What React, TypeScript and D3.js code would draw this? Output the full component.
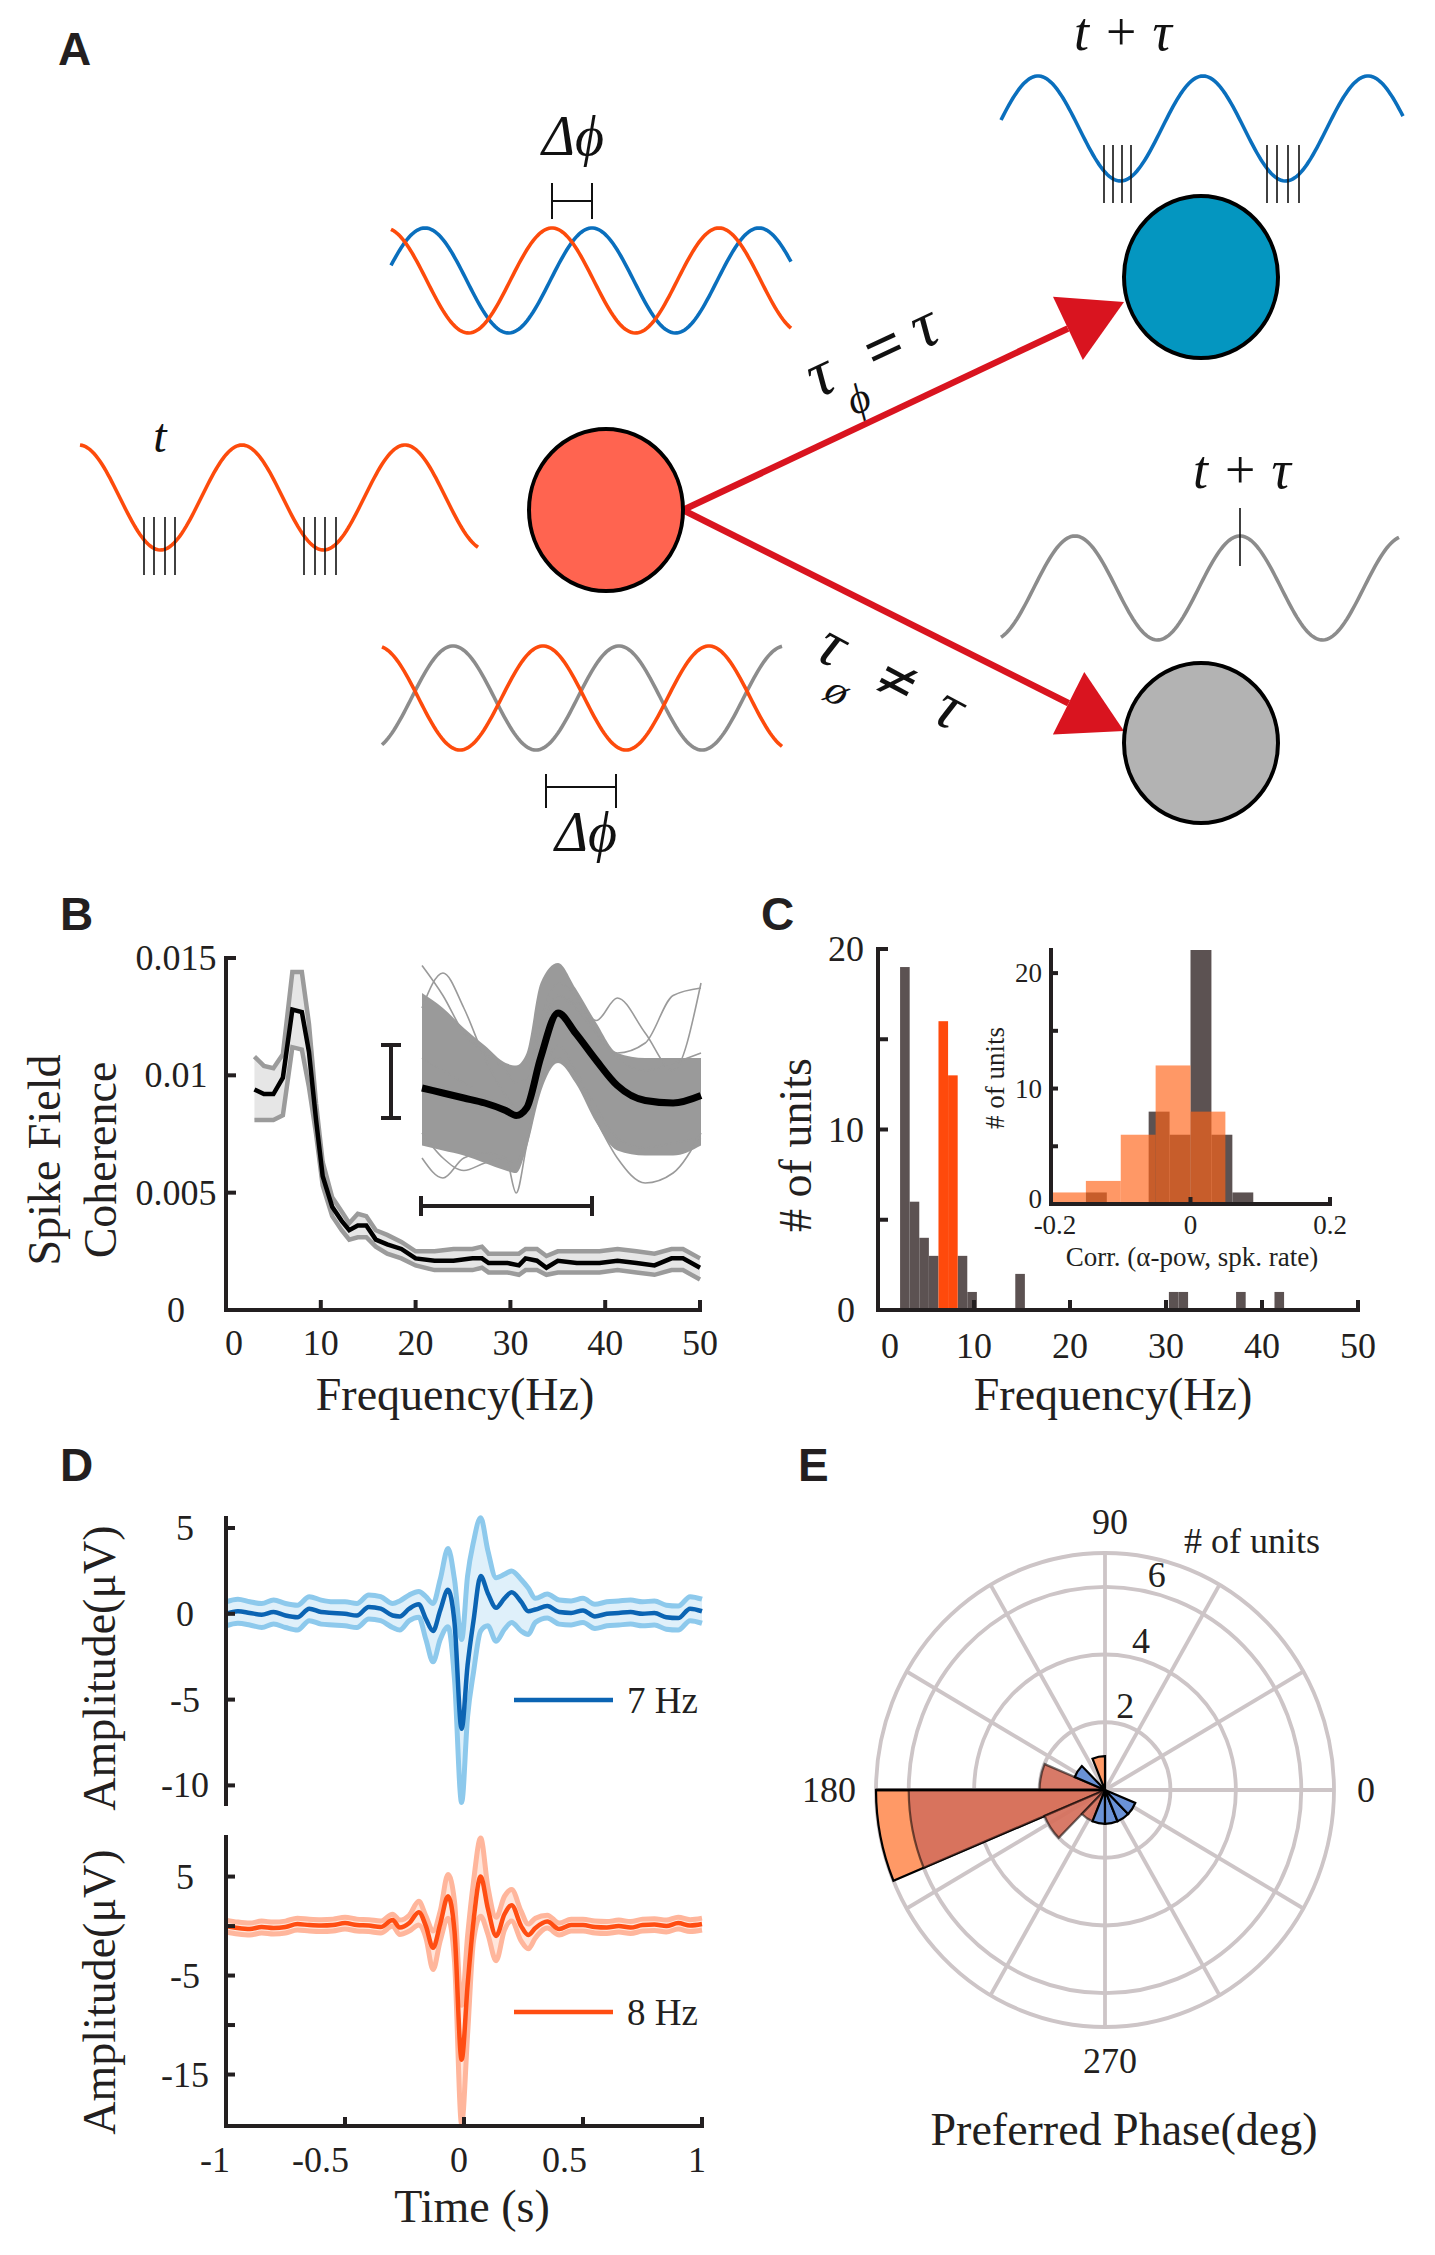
import * as d3 from "d3";

const SERIF = "'Liberation Serif','Times New Roman',serif";
const SANS = "'Liberation Sans',Arial,Helvetica,sans-serif";
const INK = "#231f20";

// ---------- Panel B: spike field coherence ----------
const sfcFreq = [3, 4, 5, 6, 7, 8, 8.75, 9.5, 10.2, 11.2, 12.2, 13, 13.9, 14.8, 15.8, 17, 18.5, 20, 22, 24, 26, 27, 27.7, 29.7, 30.9, 31.6, 32.8, 33.8, 35, 37, 39.4, 41.3, 43.3, 45.2, 47, 48.2, 50];
const sfcMean = [0.0094, 0.0092, 0.0092, 0.0099, 0.0128, 0.0127, 0.011, 0.0081, 0.0057, 0.0044, 0.0038, 0.0034, 0.0036, 0.0036, 0.003, 0.0028, 0.0026, 0.0022, 0.0021, 0.0021, 0.0022, 0.0022, 0.002, 0.002, 0.0019, 0.0022, 0.0021, 0.0018, 0.0021, 0.002, 0.002, 0.0021, 0.002, 0.0019, 0.0022, 0.0022, 0.0018];
const sfcUpper = [0.0108, 0.0104, 0.0103, 0.0109, 0.0144, 0.0144, 0.0122, 0.0088, 0.0063, 0.0048, 0.0042, 0.0037, 0.0041, 0.004, 0.0034, 0.0032, 0.0029, 0.0025, 0.0025, 0.0026, 0.0026, 0.0027, 0.0024, 0.0024, 0.0024, 0.0026, 0.0026, 0.0023, 0.0025, 0.0025, 0.0025, 0.0026, 0.0025, 0.0024, 0.0026, 0.0026, 0.0022];
const sfcLower = [0.0081, 0.0081, 0.0081, 0.0083, 0.0112, 0.0111, 0.0095, 0.0075, 0.0053, 0.004, 0.0034, 0.003, 0.0031, 0.0031, 0.0027, 0.0024, 0.0022, 0.0019, 0.0017, 0.0017, 0.0017, 0.0018, 0.0016, 0.0016, 0.0015, 0.0017, 0.0017, 0.0015, 0.0016, 0.0016, 0.0016, 0.0017, 0.0016, 0.0015, 0.0017, 0.0017, 0.0013];
const sfcTicksY = [0, 0.005, 0.01, 0.015];
const freqTicks = [0, 10, 20, 30, 40, 50];

// inset: spike waveforms (arbitrary units)
const wfTime = [0, 3, 6, 9, 12, 13.5, 15, 17, 19.5, 22, 25, 28, 32, 36, 40];
const wfMean = [48, 46, 44, 42, 39, 37, 40, 60, 78, 70, 59, 49, 43, 42, 45];
const wfUpper = [86, 80, 72, 65, 58, 57, 62, 90, 98, 88, 74, 62, 60, 60, 60];
const wfLower = [25, 23, 21, 18, 15, 14, 24, 46, 58, 50, 34, 23, 21, 21, 25];
const wfStray1 = [80, 94, 80, 60, 45, 40, 45, 70, 85, 80, 70, 60, 55, 58, 62];
const wfStray2 = [30, 20, 15, 18, 20, 6, 25, 50, 65, 55, 40, 28, 24, 26, 28];
const wfStray3 = [60, 55, 50, 45, 40, 38, 42, 65, 85, 82, 75, 84, 70, 55, 90];
const wfStray4 = [20, 12, 20, 22, 20, 18, 28, 50, 60, 52, 35, 20, 10, 14, 30];
const wfStray5 = [97, 85, 70, 62, 55, 50, 52, 75, 90, 85, 70, 62, 66, 85, 88];

// ---------- Panel C: preferred frequency histogram ----------
const peakBinStart = [2.3, 3.3, 4.3, 5.3, 8.3, 9.3, 14.3, 30.3, 31.3, 37.3, 41.3];
const peakCounts = [19, 6, 4, 3, 3, 1, 2, 1, 1, 1, 1];
const alphaBinStart = [6.3, 7.3];
const alphaCounts = [16, 13];
const unitTicks = [0, 5, 10, 15, 20];
const unitLabels = [0, 10, 20];

// inset: correlation histogram
const corrBinGray = [-0.15, -0.06, -0.03, 0, 0.03, 0.06];
const corrCountGray = [1, 8, 6, 22, 6, 1];
const corrBinOrange = [-0.2, -0.15, -0.1, -0.05, 0];
const corrCountOrange = [1, 2, 6, 12, 8];
const corrTicks = [-0.2, 0, 0.2];

// ---------- Panel D: spike triggered LFP ----------
const staTime = [-1, -0.95, -0.9, -0.85, -0.8, -0.75, -0.7, -0.65, -0.6, -0.55, -0.5, -0.45, -0.4, -0.35, -0.3, -0.27, -0.23, -0.19, -0.16, -0.13, -0.1, -0.067, -0.04, -0.01, 0.015, 0.04, 0.07, 0.1, 0.135, 0.17, 0.2, 0.24, 0.27, 0.3, 0.35, 0.4, 0.45, 0.5, 0.55, 0.6, 0.65, 0.7, 0.75, 0.8, 0.85, 0.9, 0.95, 1];
const sta7Mean = [0.0, 0.15, 0.05, -0.05, 0.1, -0.1, -0.2, 0.3, 0.1, 0.05, 0.0, -0.1, 0.4, 0.3, -0.1, -0.15, 0.3, 0.55, -0.3, -1.0, 0.2, 1.4, -0.5, -6.7, -3.0, -0.4, 2.2, 1.2, 0.35, 0.9, 1.25, 0.7, 0.15, 0.25, 0.45, 0.1, 0.05, 0.2, -0.15, 0.0, 0.05, 0.1, 0.0, 0.05, -0.2, -0.25, 0.3, 0.15];
const sta7Upper = [0.7, 0.85, 0.7, 0.6, 0.8, 0.6, 0.5, 1.0, 0.8, 0.7, 0.7, 0.6, 1.1, 1.0, 0.6, 0.75, 1.1, 1.3, 1.0, 0.6, 2.0, 3.8, 2.0, -1.5, 2.2, 4.2, 5.6, 3.7, 2.1, 2.3, 2.5, 2.0, 1.5, 0.9, 1.15, 0.8, 0.75, 0.9, 0.55, 0.7, 0.75, 0.8, 0.7, 0.75, 0.5, 0.45, 1.0, 0.85];
const sta7Lower = [-0.7, -0.55, -0.65, -0.8, -0.6, -0.8, -0.95, -0.4, -0.6, -0.65, -0.7, -0.8, -0.3, -0.4, -0.8, -0.95, -0.4, -0.2, -1.5, -2.8, -1.5, -0.75, -3.8, -11.0, -6.0, -3.4, -1.0, -0.7, -1.6, -0.9, -0.5, -1.0, -1.2, -0.5, -0.25, -0.6, -0.65, -0.5, -0.85, -0.7, -0.65, -0.6, -0.7, -0.65, -0.9, -0.95, -0.4, -0.55];
const sta8Mean = [0.0, -0.2, -0.3, -0.1, -0.2, -0.1, 0.2, 0.1, 0.05, 0.1, 0.3, 0.1, 0.05, -0.1, 0.6, -0.15, 0.3, 1.4, 0.0, -2.2, 0.2, 3.0, -0.5, -13.5, -6.0, 0.5, 5.0, 1.8, -1.0, 1.2, 2.1, 0.0, -0.9, -0.2, 0.45, -0.3, 0.1, 0.1, -0.1, -0.15, 0.0, -0.15, 0.1, 0.15, 0.0, 0.3, 0.05, 0.2];
const sta8Upper = [0.6, 0.4, 0.3, 0.5, 0.4, 0.5, 0.8, 0.7, 0.65, 0.7, 0.9, 0.7, 0.65, 0.5, 1.2, 0.6, 1.1, 2.5, 1.0, -0.5, 1.5, 5.2, 2.5, -8.0, -1.0, 4.5, 8.9, 4.0, 0.9, 3.0, 3.7, 1.5, 0.2, 0.8, 1.1, 0.3, 0.7, 0.7, 0.5, 0.45, 0.6, 0.45, 0.7, 0.75, 0.6, 0.9, 0.65, 0.8];
const sta8Lower = [-0.6, -0.8, -0.9, -0.7, -0.8, -0.7, -0.4, -0.5, -0.55, -0.5, -0.3, -0.5, -0.55, -0.7, 0.0, -0.85, -0.5, 0.1, -1.2, -4.4, -1.5, 0.8, -3.5, -20.0, -11.0, -1.5, 1.0, -0.8, -3.5, -0.4, 0.5, -1.5, -2.3, -1.2, -0.2, -0.9, -0.5, -0.5, -0.7, -0.75, -0.6, -0.75, -0.5, -0.45, -0.6, -0.3, -0.55, -0.4];
const timeTicks = [-1, -0.5, 0, 0.5, 1];
const ampTicksTop = [5, 0, -5, -10];
const ampTicksBottom = [5, 0, -5, -10, -15];
const ampLabelsBottom = [5, -5, -15];

// ---------- Panel E: preferred phase rose ----------
const phaseEdges = [0, 22.5, 45, 67.5, 90, 112.5, 135, 157.5, 180, 202.5, 225, 247.5, 270, 292.5, 315, 337.5];
const phaseOrange = [0, 0, 0, 0, 1, 0, 0, 0, 7, 0, 0, 0, 0, 0, 0, 0];
const phaseRed = [0, 0, 0, 0, 0, 0, 0, 2, 6, 2, 1, 0, 0, 0, 0, 0];
const phaseBlue = [0, 0, 0, 0, 0, 0, 1, 0, 0, 0, 0, 1, 1, 1, 1, 0];
const phaseRings = [2, 4, 6];
const phaseSpokes = [0, 30, 60, 90, 120, 150, 180, 210, 240, 270, 300, 330];

const TICK_FS = 36;

function Letter({ x, y, t }: { x: number; y: number; t: string }) {
  return (
    <text x={x} y={y} fontFamily={SANS} fontWeight="bold" fontSize={46} fill={INK}>
      {t}
    </text>
  );
}

// ---- schematic wave for panel A ----
function wave(x0: number, x1: number, crest: number, mid: number, amp: number, period: number) {
  const xs = d3.range(x0, x1 + 0.5, 2);
  return d3
    .line<number>()
    .x((x) => x)
    .y((x) => mid - amp * Math.cos((2 * Math.PI * (x - crest)) / period))(xs) as string;
}

function arrowHead(x0: number, y0: number, tx: number, ty: number, len: number, half: number) {
  const dx = tx - x0;
  const dy = ty - y0;
  const L = Math.hypot(dx, dy);
  const ux = dx / L;
  const uy = dy / L;
  const bx = tx - ux * len;
  const by = ty - uy * len;
  return {
    pts: `${tx},${ty} ${bx - uy * half},${by + ux * half} ${bx + uy * half},${by - ux * half}`,
    bx,
    by,
  };
}

function PanelA() {
  const OR = "#fd4b0c";
  const BL = "#0a6fbd";
  const GR = "#8c8c8c";
  const sw = 3.6;
  const up = arrowHead(683, 510, 1124, 302, 62, 35);
  const dn = arrowHead(683, 510, 1124, 731, 62, 35);
  const spikeL = [144, 154, 165, 175, 304, 315, 325, 336];
  const spikeR = [1104, 1113, 1122, 1131, 1267, 1277, 1288, 1299];
  const it = { fontFamily: SERIF, fontStyle: "italic" as const, fill: "#111" };
  return (
    <g>
      <Letter x={58} y={65} t="A" />
      {/* left wave with spikes at troughs */}
      <path d={wave(80, 478, 242, 497.5, 52.5, 163)} fill="none" stroke={OR} strokeWidth={sw} />
      {spikeL.map((x) => (
        <line key={x} x1={x} x2={x} y1={517} y2={575} stroke="#111" strokeWidth={1.6} />
      ))}
      <text x={160} y={452} fontSize={48} textAnchor="middle" {...it}>t</text>

      {/* top middle pair */}
      <path d={wave(391, 791, 592, 280.5, 52.5, 167)} fill="none" stroke={BL} strokeWidth={sw} />
      <path d={wave(391, 791, 552, 280.5, 52.5, 167)} fill="none" stroke={OR} strokeWidth={sw} />
      <g stroke="#111" strokeWidth={2}>
        <line x1={552} x2={552} y1={183} y2={219} />
        <line x1={592} x2={592} y1={183} y2={219} />
        <line x1={552} x2={592} y1={201} y2={201} />
      </g>
      <text x={573} y={155} fontSize={56} textAnchor="middle" {...it}>Δϕ</text>

      {/* bottom middle pair */}
      <path d={wave(382, 782, 453, 698, 52, 166)} fill="none" stroke={GR} strokeWidth={sw} />
      <path d={wave(382, 782, 543, 698, 52, 166)} fill="none" stroke={OR} strokeWidth={sw} />
      <g stroke="#111" strokeWidth={2}>
        <line x1={546} x2={546} y1={774} y2={808} />
        <line x1={616} x2={616} y1={774} y2={808} />
        <line x1={546} x2={616} y1={787} y2={787} />
      </g>
      <text x={586} y={851} fontSize={56} textAnchor="middle" {...it}>Δϕ</text>

      {/* top right */}
      <text x={1123} y={50} fontSize={54} textAnchor="middle" {...it}>t + τ</text>
      <path d={wave(1001, 1403, 1038, 128.5, 52.5, 165)} fill="none" stroke={BL} strokeWidth={sw} />
      {spikeR.map((x) => (
        <line key={x} x1={x} x2={x} y1={145} y2={203} stroke="#111" strokeWidth={1.6} />
      ))}

      {/* right gray */}
      <text x={1242} y={488} fontSize={54} textAnchor="middle" {...it}>t + τ</text>
      <path d={wave(1001, 1400, 1075, 588, 52, 165)} fill="none" stroke={GR} strokeWidth={sw} />
      <line x1={1240} x2={1240} y1={508} y2={566} stroke="#111" strokeWidth={1.6} />

      {/* arrows */}
      <g stroke="#d9141f" strokeWidth={6.5} fill="none">
        <line x1={683} y1={510} x2={up.bx} y2={up.by} />
        <line x1={683} y1={510} x2={dn.bx} y2={dn.by} />
      </g>
      <polygon points={up.pts} fill="#d9141f" />
      <polygon points={dn.pts} fill="#d9141f" />

      {/* arrow labels */}
      <g transform="translate(822,380) rotate(-25)" {...it}>
        <text x={0} y={15} fontSize={66} textAnchor="middle">τ</text>
        <text x={25} y={46} fontSize={42} textAnchor="middle">ϕ</text>
        <text x={70} y={18} fontSize={66} textAnchor="middle" fontStyle="normal" fontWeight="bold">=</text>
        <text x={115} y={15} fontSize={66} textAnchor="middle">τ</text>
      </g>
      <g transform="translate(830,650) rotate(28)" {...it}>
        <text x={0} y={15} fontSize={66} textAnchor="middle">τ</text>
        <text x={26} y={46} fontSize={42} textAnchor="middle">ø</text>
        <text x={74} y={18} fontSize={66} textAnchor="middle" fontStyle="normal" fontWeight="bold">≠</text>
        <text x={133} y={15} fontSize={66} textAnchor="middle">τ</text>
      </g>

      {/* neurons */}
      <ellipse cx={606} cy={510} rx={77} ry={81} fill="#ff6450" stroke="#000" strokeWidth={4} />
      <ellipse cx={1201} cy={277} rx={77} ry={81} fill="#0496c0" stroke="#000" strokeWidth={4} />
      <ellipse cx={1201} cy={743} rx={77} ry={80} fill="#b3b3b3" stroke="#000" strokeWidth={4} />
    </g>
  );
}

function PanelB() {
  const x = d3.scaleLinear().domain([0, 50]).range([226, 700]);
  const y = d3.scaleLinear().domain([0, 0.015]).range([1310, 958]);
  const band = d3
    .area<number>()
    .x((_, i) => x(sfcFreq[i]))
    .y0((_, i) => y(sfcLower[i]))
    .y1((_, i) => y(sfcUpper[i]));
  const line = d3
    .line<number>()
    .x((_, i) => x(sfcFreq[i]))
    .y((d) => y(d));

  const xi = d3.scaleLinear().domain([0, 40]).range([422, 701]);
  const yi = d3.scaleLinear().domain([0, 100]).range([1208, 958]);
  const wfArea = d3
    .area<number>()
    .x((_, i) => xi(wfTime[i]))
    .y0((_, i) => yi(wfLower[i]))
    .y1((_, i) => yi(wfUpper[i]))
    .curve(d3.curveMonotoneX);
  const wfLine = d3
    .line<number>()
    .x((_, i) => xi(wfTime[i]))
    .y((d) => yi(d))
    .curve(d3.curveMonotoneX);
  const strays = [wfStray1, wfStray2, wfStray3, wfStray4, wfStray5];

  return (
    <g>
      <Letter x={60} y={930} t="B" />
      {/* inset waveforms */}
      <path d={wfArea(wfMean) as string} fill="#9a9a9a" />
      {strays.map((s, k) => (
        <path key={k} d={wfLine(s) as string} fill="none" stroke="#9a9a9a" strokeWidth={1.6} />
      ))}
      <path d={wfLine(wfMean) as string} fill="none" stroke="#000" strokeWidth={7} />
      <g stroke={INK} strokeWidth={4}>
        <line x1={391} x2={391} y1={1045} y2={1118} />
        <line x1={381} x2={401} y1={1045} y2={1045} />
        <line x1={381} x2={401} y1={1118} y2={1118} />
        <line x1={421} x2={592} y1={1206} y2={1206} />
        <line x1={421} x2={421} y1={1196} y2={1216} />
        <line x1={592} x2={592} y1={1196} y2={1216} />
      </g>

      {/* coherence */}
      <path d={band(sfcMean) as string} fill="#e6e6e6" />
      <path d={line(sfcUpper) as string} fill="none" stroke="#9b9b9b" strokeWidth={4.5} />
      <path d={line(sfcLower) as string} fill="none" stroke="#9b9b9b" strokeWidth={4.5} />
      <path d={line(sfcMean) as string} fill="none" stroke="#000" strokeWidth={4.5} />

      {/* axes */}
      <g stroke={INK} strokeWidth={4}>
        <line x1={226} x2={226} y1={956} y2={1312} />
        <line x1={224} x2={702} y1={1310} y2={1310} />
        {sfcTicksY.map((v) => (
          <line key={v} x1={226} x2={236} y1={y(v)} y2={y(v)} />
        ))}
        {freqTicks.map((v) => (
          <line key={v} x1={x(v)} x2={x(v)} y1={1310} y2={1300} />
        ))}
      </g>
      <g fontFamily={SERIF} fontSize={TICK_FS} fill={INK} textAnchor="middle">
        {sfcTicksY.map((v) => (
          <text key={v} x={176} y={y(v)} dominantBaseline="central">
            {String(v)}
          </text>
        ))}
        {freqTicks.map((v) => (
          <text key={v} x={x(v) + (v === 0 ? 8 : 0)} y={1355}>
            {v}
          </text>
        ))}
      </g>
      <g fontFamily={SERIF} fontSize={46} fill={INK} textAnchor="middle">
        <text x={455} y={1410}>Frequency(Hz)</text>
        <text transform="translate(44,1160) rotate(-90)" dominantBaseline="central">Spike Field</text>
        <text transform="translate(100,1160) rotate(-90)" dominantBaseline="central">Coherence</text>
      </g>
    </g>
  );
}

function PanelC() {
  const x = d3.scaleLinear().domain([0, 50]).range([878, 1358]);
  const y = d3.scaleLinear().domain([0, 20]).range([1310, 949]);
  const xi = d3.scaleLinear().domain([-0.2, 0.2]).range([1051, 1330]);
  const yi = d3.scaleLinear().domain([0, 22]).range([1204, 950]);
  const GRAY = "#5c5252";
  return (
    <g>
      <Letter x={761} y={930} t="C" />
      {peakBinStart.map((b, i) => (
        <rect key={b} x={x(b)} width={x(b + 1) - x(b)} y={y(peakCounts[i])} height={y(0) - y(peakCounts[i])} fill={GRAY} />
      ))}
      {alphaBinStart.map((b, i) => (
        <rect key={b} x={x(b)} width={x(b + 1) - x(b)} y={y(alphaCounts[i])} height={y(0) - y(alphaCounts[i])} fill="#ff4a0c" />
      ))}
      <g stroke={INK} strokeWidth={4}>
        <line x1={878} x2={878} y1={947} y2={1312} />
        <line x1={876} x2={1360} y1={1310} y2={1310} />
        {unitTicks.map((v) => (
          <line key={v} x1={878} x2={888} y1={y(v)} y2={y(v)} />
        ))}
        {freqTicks.map((v) => (
          <line key={v} x1={x(v)} x2={x(v)} y1={1310} y2={1300} />
        ))}
      </g>
      <g fontFamily={SERIF} fontSize={TICK_FS} fill={INK} textAnchor="middle">
        {unitLabels.map((v) => (
          <text key={v} x={846} y={y(v)} dominantBaseline="central">
            {v}
          </text>
        ))}
        {freqTicks.map((v) => (
          <text key={v} x={x(v) + (v === 0 ? 12 : 0)} y={1358}>
            {v}
          </text>
        ))}
      </g>
      <g fontFamily={SERIF} fontSize={46} fill={INK} textAnchor="middle">
        <text x={1113} y={1410}>Frequency(Hz)</text>
        <text transform="translate(795,1145) rotate(-90)" dominantBaseline="central"># of units</text>
      </g>

      {/* inset */}
      {corrBinGray.map((b, i) => (
        <rect key={b} x={xi(b)} width={xi(b + 0.03) - xi(b)} y={yi(corrCountGray[i])} height={yi(0) - yi(corrCountGray[i])} fill={GRAY} />
      ))}
      {corrBinOrange.map((b, i) => (
        <rect key={b} x={xi(b)} width={xi(b + 0.05) - xi(b)} y={yi(corrCountOrange[i])} height={yi(0) - yi(corrCountOrange[i])} fill="#ff6317" fillOpacity={0.66} />
      ))}
      <g stroke={INK} strokeWidth={4}>
        <line x1={1051} x2={1051} y1={948} y2={1206} />
        <line x1={1049} x2={1332} y1={1204} y2={1204} />
        {[5, 10, 15, 20].map((v) => (
          <line key={v} x1={1051} x2={1058} y1={yi(v)} y2={yi(v)} />
        ))}
        {corrTicks.map((v) => (
          <line key={v} x1={xi(v)} x2={xi(v)} y1={1204} y2={1197} />
        ))}
      </g>
      <g fontFamily={SERIF} fontSize={27} fill={INK}>
        {unitLabels.map((v) => (
          <text key={v} x={1042} y={yi(v) - (v === 0 ? 5 : 0)} textAnchor="end" dominantBaseline="central">
            {v}
          </text>
        ))}
        {corrTicks.map((v) => (
          <text key={v} x={xi(v) + (v < 0 ? 4 : 0)} y={1234} textAnchor="middle">
            {v === 0 ? "0" : v.toFixed(1)}
          </text>
        ))}
        <text x={1192} y={1266} textAnchor="middle">Corr. (α-pow, spk. rate)</text>
        <text transform="translate(995,1078) rotate(-90)" textAnchor="middle" dominantBaseline="central"># of units</text>
      </g>
    </g>
  );
}

function Trace({
  x,
  y,
  mean,
  lo,
  hi,
  dark,
  mid,
  light,
}: {
  x: d3.ScaleLinear<number, number>;
  y: d3.ScaleLinear<number, number>;
  mean: number[];
  lo: number[];
  hi: number[];
  dark: string;
  mid: string;
  light: string;
}) {
  const area = d3
    .area<number>()
    .x((_, i) => x(staTime[i]))
    .y0((_, i) => y(lo[i]))
    .y1((_, i) => y(hi[i]))
    .curve(d3.curveMonotoneX);
  const line = d3
    .line<number>()
    .x((_, i) => x(staTime[i]))
    .y((d) => y(d))
    .curve(d3.curveMonotoneX);
  return (
    <g>
      <path d={area(mean) as string} fill={light} />
      <path d={line(hi) as string} fill="none" stroke={mid} strokeWidth={5} />
      <path d={line(lo) as string} fill="none" stroke={mid} strokeWidth={5} />
      <path d={line(mean) as string} fill="none" stroke={dark} strokeWidth={4.5} />
    </g>
  );
}

function PanelD() {
  const x = d3.scaleLinear().domain([-1, 1]).range([226, 702]);
  const y1 = d3.scaleLinear().domain([-11.2, 5.7]).range([1806, 1516]);
  const y2 = d3.scaleLinear().domain([-20.2, 9.2]).range([2126, 1835]);
  const fmt = (v: number) => (v < 0 ? `-${-v}` : `${v}`);
  return (
    <g>
      <Letter x={60} y={1481} t="D" />
      <Trace x={x} y={y1} mean={sta7Mean} lo={sta7Lower} hi={sta7Upper} dark="#0b64b3" mid="#8dc9ec" light="#dff0fa" />
      <Trace x={x} y={y2} mean={sta8Mean} lo={sta8Lower} hi={sta8Upper} dark="#ff4d12" mid="#ffb69c" light="#ffe6dc" />
      <g stroke={INK} strokeWidth={4}>
        <line x1={226} x2={226} y1={1516} y2={1806} />
        {ampTicksTop.map((v) => (
          <line key={v} x1={226} x2={235} y1={y1(v)} y2={y1(v)} />
        ))}
        <line x1={226} x2={226} y1={1835} y2={2128} />
        <line x1={224} x2={704} y1={2126} y2={2126} />
        {ampTicksBottom.map((v) => (
          <line key={v} x1={226} x2={235} y1={y2(v)} y2={y2(v)} />
        ))}
        {timeTicks.map((v) => (
          <line key={v} x1={x(v)} x2={x(v)} y1={2126} y2={2117} />
        ))}
      </g>
      <g fontFamily={SERIF} fontSize={TICK_FS} fill={INK}>
        {ampTicksTop.map((v) => (
          <text key={v} x={185} y={y1(v)} textAnchor="middle" dominantBaseline="central">
            {fmt(v)}
          </text>
        ))}
        {ampLabelsBottom.map((v) => (
          <text key={v} x={185} y={y2(v)} textAnchor="middle" dominantBaseline="central">
            {fmt(v)}
          </text>
        ))}
        {timeTicks.map((v) => (
          <text key={v} x={x(v) + 4} y={2172} textAnchor="end">
            {fmt(v)}
          </text>
        ))}
      </g>
      {/* legends */}
      <line x1={514} x2={613} y1={1700} y2={1700} stroke="#0b64b3" strokeWidth={4.5} />
      <line x1={514} x2={613} y1={2012} y2={2012} stroke="#ff4d12" strokeWidth={4.5} />
      <g fontFamily={SERIF} fontSize={37} fill={INK}>
        <text x={627} y={1713}>7 Hz</text>
        <text x={627} y={2025}>8 Hz</text>
      </g>
      <g fontFamily={SERIF} fontSize={46} fill={INK} textAnchor="middle">
        <text x={472} y={2222}>Time (s)</text>
        <text transform="translate(99,1668) rotate(-90)" dominantBaseline="central">Amplitude(μV)</text>
        <text transform="translate(99,1992) rotate(-90)" dominantBaseline="central">Amplitude(μV)</text>
      </g>
    </g>
  );
}

function PanelE() {
  const cx = 1105;
  const cy = 1790;
  const sy = 1.035;
  const r = d3.scaleLinear().domain([0, 7]).range([0, 229]);
  const rad = (deg: number) => (deg * Math.PI) / 180;
  const wedge = (edge: number, count: number) =>
    d3.arc()({
      innerRadius: 0,
      outerRadius: r(count),
      startAngle: Math.PI / 2 - rad(edge + 22.5),
      endAngle: Math.PI / 2 - rad(edge),
    }) as string;
  const GRID = "#cdc5c7";
  const labelAng = rad(76);
  return (
    <g>
      <Letter x={798} y={1481} t="E" />
      <g transform={`translate(${cx},${cy}) scale(1,${sy})`}>
        {[...phaseRings, 7].map((v) => (
          <circle key={v} r={r(v)} fill="none" stroke={GRID} strokeWidth={3.8} />
        ))}
        {phaseSpokes.map((a) => (
          <line key={a} x1={0} y1={0} x2={r(7) * Math.cos(rad(a))} y2={-r(7) * Math.sin(rad(a))} stroke={GRID} strokeWidth={3.8} />
        ))}
        {phaseEdges.map((e, i) =>
          phaseOrange[i] > 0 ? <path key={"o" + e} d={wedge(e, phaseOrange[i])} fill="#ff9966" stroke="#000" strokeWidth={2.2} /> : null
        )}
        {phaseEdges.map((e, i) =>
          phaseRed[i] > 0 ? (
            <path key={"r" + e} d={wedge(e, phaseRed[i])} fill="#d5705c" fillOpacity={0.93} stroke="#000" strokeOpacity={0.55} strokeWidth={2.2} />
          ) : null
        )}
        {phaseEdges.map((e, i) =>
          phaseBlue[i] > 0 ? <path key={"b" + e} d={wedge(e, phaseBlue[i])} fill="#6a92d6" stroke="#000" strokeWidth={2.2} /> : null
        )}
        <line x1={0} y1={0} x2={-r(7)} y2={0} stroke="#000" strokeWidth={2.4} />
      </g>
      <g fontFamily={SERIF} fontSize={TICK_FS} fill={INK} textAnchor="middle">
        {phaseRings.map((v) => (
          <text key={v} x={cx + (r(v) + 18) * Math.cos(labelAng)} y={cy - (r(v) + 18) * Math.sin(labelAng) * sy} dominantBaseline="central">
            {v}
          </text>
        ))}
        <text x={cx + 5} y={1534}>90</text>
        <text x={cx + 5} y={2073}>270</text>
        <text x={1366} y={1790} dominantBaseline="central">0</text>
        <text x={829} y={1790} dominantBaseline="central">180</text>
        <text x={1252} y={1553}># of units</text>
      </g>
      <text x={1124} y={2145} fontFamily={SERIF} fontSize={46} fill={INK} textAnchor="middle">
        Preferred Phase(deg)
      </text>
    </g>
  );
}

export default function App() {
  return (
    <div style={{ position: "absolute", left: 0, top: 0 }}>
      <svg width={1435} height={2255} viewBox="0 0 1435 2255" style={{ display: "block", background: "#fff" }}>
        <PanelA />
        <PanelB />
        <PanelC />
        <PanelD />
        <PanelE />
      </svg>
    </div>
  );
}
